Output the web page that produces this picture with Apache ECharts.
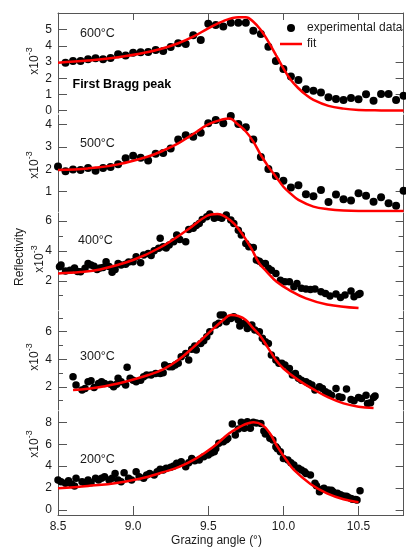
<!DOCTYPE html>
<html>
<head>
<meta charset="utf-8">
<script src="https://cdn.jsdelivr.net/npm/echarts@6.0.0/dist/echarts.min.js"></script>
<style>
html, body { margin: 0; padding: 0; background: #fff; }
#chart { width: 406px; height: 549px; }
</style>
</head>
<body>
<div id="chart"></div>
<script>
// ---- data (reflectivity in units of 1e-3) ----

// 600 C
var x600 = [8.55,8.60,8.65,8.70,8.75,8.80,8.85,8.90,8.95,9.00,9.05,9.10,9.15,9.20,9.25,9.30,9.35,9.40,9.45,9.50,9.55,9.60,9.65,9.70,9.75,9.80,9.85,9.90,9.95,10.00,10.05,10.10,10.15,10.20,10.25,10.30,10.35,10.40,10.45,10.50,10.55,10.60,10.65,10.70,10.75,10.80];
var y600 = [2.96,3.07,3.07,3.17,3.23,3.17,3.25,3.48,3.40,3.58,3.60,3.62,3.74,3.68,3.93,4.16,4.12,4.65,4.36,5.37,5.29,5.19,5.43,5.43,5.43,4.94,4.73,3.95,3.07,2.57,2.10,1.89,1.32,1.23,1.11,0.82,0.72,0.66,0.78,0.70,1.01,0.60,1.03,1.03,0.66,0.91];
var fitX600 = [8.50,8.70,8.90,9.10,9.20,9.30,9.40,9.50,9.60,9.70,9.75,9.80,9.85,9.90,9.95,10.00,10.05,10.10,10.15,10.20,10.30,10.40,10.50,10.65,10.80];
var fitY600 = [2.96,3.09,3.29,3.62,3.85,4.16,4.57,5.08,5.53,5.76,5.76,5.49,4.98,4.26,3.44,2.61,1.89,1.38,0.97,0.66,0.29,0.12,0.04,0.01,0.0];

// 500 C
var x500 = [8.50,8.55,8.60,8.65,8.70,8.75,8.80,8.85,8.90,8.95,9.00,9.05,9.10,9.15,9.20,9.25,9.30,9.35,9.40,9.45,9.50,9.55,9.60,9.65,9.70,9.75,9.80,9.85,9.90,9.95,10.00,10.05,10.10,10.15,10.20,10.25,10.30,10.35,10.40,10.45,10.50,10.55,10.60,10.65,10.70,10.75,10.80];
var y500 = [2.12,1.91,1.99,1.97,2.06,1.93,2.06,2.10,2.22,2.49,2.61,2.52,2.39,2.70,2.73,2.93,3.33,3.52,3.46,3.63,4.06,4.21,4.06,4.39,4.03,3.88,3.33,2.55,2.01,1.70,1.49,1.19,1.28,0.88,0.79,1.07,0.54,0.87,0.66,0.60,0.93,0.81,0.55,0.75,0.48,0.37,1.04];
var fitX500 = [8.50,8.70,8.90,9.10,9.20,9.30,9.40,9.50,9.60,9.64,9.70,9.75,9.80,9.85,9.90,9.95,10.00,10.05,10.10,10.20,10.30,10.40,10.50,10.80];
var fitY500 = [1.97,2.04,2.22,2.57,2.84,3.16,3.58,4.01,4.24,4.27,3.99,3.69,3.24,2.64,2.12,1.67,1.22,0.90,0.63,0.33,0.21,0.15,0.13,0.13];

// 400 C
var x400 = [8.51,8.52,8.55,8.58,8.61,8.63,8.65,8.68,8.70,8.72,8.74,8.76,8.78,8.80,8.82,8.84,8.86,8.88,8.90,8.92,8.95,8.97,9.00,9.02,9.05,9.07,9.10,9.12,9.14,9.17,9.18,9.20,9.22,9.24,9.27,9.29,9.31,9.35,9.37,9.40,9.42,9.44,9.46,9.49,9.51,9.54,9.57,9.59,9.62,9.65,9.67,9.70,9.72,9.75,9.77,9.80,9.82,9.84,9.86,9.88,9.90,9.92,9.95,9.98,10.01,10.04,10.07,10.09,10.12,10.15,10.18,10.21,10.25,10.28,10.31,10.35,10.38,10.41,10.45,10.47,10.50,10.51];
var y400 = [2.94,3.05,2.65,2.71,2.85,2.62,2.60,2.83,3.16,3.05,2.98,2.76,2.85,2.89,3.27,2.95,2.57,2.75,3.16,3.05,3.10,3.25,3.27,3.61,3.21,3.72,3.83,3.70,4.01,4.17,4.84,4.28,4.20,4.39,4.61,5.06,4.77,4.61,5.44,5.51,5.70,5.84,6.11,6.29,6.47,6.18,6.25,6.18,6.40,6.07,5.84,5.39,5.06,4.50,4.28,4.23,3.39,3.30,3.16,3.16,2.83,2.71,2.49,2.04,1.93,1.93,1.60,1.82,1.49,1.44,1.42,1.44,1.26,1.15,0.97,1.11,0.88,1.04,1.31,0.93,1.08,1.15];
var fitX400 = [8.50,8.65,8.78,9.00,9.18,9.36,9.49,9.56,9.645,9.71,9.78,9.84,9.89,9.955,10.04,10.15,10.29,10.50];
var fitY400 = [2.49,2.58,2.76,3.39,4.23,5.40,6.34,6.47,6.07,5.35,4.28,3.16,2.60,1.93,1.37,0.82,0.41,0.17];

// 300 C
var x300 = [8.60,8.62,8.66,8.68,8.70,8.72,8.74,8.77,8.79,8.81,8.85,8.87,8.89,8.90,8.92,8.95,8.96,8.98,9.00,9.02,9.05,9.07,9.09,9.12,9.15,9.18,9.20,9.21,9.24,9.26,9.28,9.30,9.32,9.35,9.37,9.39,9.41,9.42,9.45,9.47,9.49,9.51,9.55,9.57,9.58,9.60,9.62,9.65,9.67,9.70,9.71,9.74,9.76,9.78,9.79,9.81,9.84,9.86,9.88,9.90,9.92,9.95,9.97,9.99,10.01,10.04,10.06,10.08,10.10,10.12,10.15,10.17,10.19,10.21,10.24,10.26,10.28,10.30,10.32,10.35,10.37,10.39,10.42,10.45,10.47,10.50,10.52,10.55,10.56,10.58,10.60,10.61];
var y300 = [2.73,2.12,1.76,1.88,2.36,2.44,1.95,2.24,2.36,2.24,2.19,2.00,2.19,2.61,2.36,2.12,3.41,2.61,2.48,2.36,2.48,2.73,2.85,2.85,2.97,2.97,3.02,3.58,3.45,3.45,3.58,3.70,4.18,4.42,3.94,4.73,4.97,4.67,5.15,5.35,5.64,6.00,6.48,6.61,7.21,7.21,6.73,6.97,7.09,6.85,6.42,6.61,6.24,6.36,6.48,6.12,6.00,5.52,5.27,5.15,4.30,3.94,3.70,3.70,3.58,3.33,2.85,2.97,2.61,2.48,2.36,2.24,2.12,1.76,2.00,1.88,1.64,1.52,1.39,1.88,1.27,1.22,1.83,1.08,0.98,1.22,1.15,1.39,0.79,0.84,1.22,1.32];
var fitX300 = [8.60,8.70,8.90,9.10,9.20,9.30,9.40,9.50,9.60,9.65,9.70,9.75,9.80,9.85,9.90,9.95,10.00,10.10,10.20,10.30,10.40,10.50,10.60];
var fitY300 = [1.76,1.85,2.24,2.85,3.26,3.94,4.86,5.88,6.85,7.21,7.14,6.85,6.24,5.64,4.79,3.94,3.33,2.48,1.81,1.22,0.79,0.55,0.45];

// 200 C
var x200 = [8.50,8.52,8.55,8.57,8.59,8.61,8.62,8.66,8.68,8.70,8.72,8.75,8.77,8.79,8.81,8.84,8.86,8.88,8.90,8.92,8.94,8.97,8.99,9.02,9.04,9.07,9.09,9.11,9.14,9.16,9.18,9.20,9.22,9.25,9.27,9.29,9.32,9.35,9.37,9.39,9.41,9.44,9.47,9.50,9.52,9.54,9.55,9.57,9.60,9.62,9.63,9.66,9.68,9.70,9.72,9.74,9.76,9.78,9.80,9.82,9.85,9.87,9.88,9.91,9.93,9.95,9.96,9.98,10.00,10.03,10.05,10.07,10.10,10.12,10.14,10.15,10.18,10.21,10.22,10.24,10.26,10.27,10.30,10.32,10.33,10.36,10.38,10.40,10.42,10.43,10.45,10.46,10.48,10.49,10.51];
var y200 = [2.74,2.58,2.43,2.67,2.37,2.19,2.89,2.58,2.43,2.74,2.49,2.89,2.74,2.89,3.04,2.74,2.89,3.34,2.74,2.58,3.40,2.89,2.74,3.50,3.04,2.89,3.19,3.34,3.19,3.50,3.71,3.65,3.80,3.89,4.01,4.26,4.41,3.95,4.30,4.71,4.50,4.56,4.86,5.02,5.20,5.32,5.60,6.08,6.23,6.40,6.54,7.85,6.84,7.40,8.00,7.45,8.05,7.45,8.00,7.95,7.90,7.20,6.93,6.54,6.38,5.78,5.60,5.32,4.71,4.56,4.30,4.10,3.80,3.65,3.50,3.34,3.19,2.43,2.20,1.67,1.90,1.98,1.82,1.80,1.67,1.52,1.40,1.28,1.25,1.16,1.05,0.97,0.95,0.91,1.76];
var fitX200 = [8.50,8.70,8.90,9.10,9.20,9.31,9.42,9.53,9.64,9.70,9.75,9.80,9.86,9.91,9.96,10.02,10.07,10.18,10.29,10.40,10.50];
var fitY200 = [1.98,2.19,2.49,3.04,3.45,3.95,4.71,5.72,7.00,7.50,7.85,8.00,7.76,7.00,5.78,4.56,3.65,2.37,1.52,0.98,0.70];

var panelLabels = ["600°C", "500°C", "400°C", "300°C", "200°C"];
var xTicks = [8.5, 9.0, 9.5, 10.0, 10.5];

// ---- layout ----
var FONT = '"Liberation Sans", Arial, sans-serif';
var AXIS_COLOR = '#555';
var TEXT_COLOR = '#1a1a1a';
var GRID_LEFT = 58;
var GRID_WIDTH = 345.6;

// one entry per stacked panel, top to bottom
var panels = [
	{ top: 13,    height: 100,  min: -0.15, max: 6.03, major: [0,1,2,3,4,5], minor: [], xs: x600, ys: y600, fx: fitX600, fy: fitY600, dot: 8,   labelY: 34,    unitX: 33, unitY: 61 },
	{ top: 115,   height: 96.5, min: 0.11,  max: 4.43, major: [1,2,3,4],     minor: [], xs: x500, ys: y500, fx: fitX500, fy: fitY500, dot: 8,   labelY: 143.5, unitX: 33, unitY: 165 },
	{ top: 213,   height: 97,   min: 0.04,  max: 6.54, major: [2,4,6],       minor: [1,3,5], xs: x400, ys: y400, fx: fitX400, fy: fitY400, dot: 7.5, labelY: 241, unitX: 38, unitY: 259 },
	{ top: 311.5, height: 98.5, min: 0.31,  max: 7.47, major: [2,4,6],       minor: [1,3,5,7], xs: x300, ys: y300, fx: fitX300, fy: fitY300, dot: 7.5, labelY: 357, unitX: 33, unitY: 357 },
	{ top: 411.5, height: 103.5, min: -0.46, max: 8.99, major: [0,2,4,6,8],  minor: [], xs: x200, ys: y200, fx: fitX200, fy: fitY200, dot: 7.5, labelY: 459.5, unitX: 33, unitY: 444 }
];

function pairs(xs, ys)
{
	var re = [];
	for(var i=0; i<xs.length; i++)
		re.push([xs[i], ys[i]]);
	return re;
}

function tickAxis(gi, p, position, values, length, withLine, withLabel)
{
	return {
		gridIndex: gi,
		type: 'value',
		position: position,
		min: p.min,
		max: p.max,
		axisLine: { show: withLine, onZero: false, lineStyle: { color: AXIS_COLOR, width: 1 } },
		axisTick: { show: values.length > 0, inside: true, length: length, customValues: values, lineStyle: { color: AXIS_COLOR, width: 1 } },
		axisLabel: { show: withLabel, customValues: values, margin: 6, fontSize: 12, fontFamily: FONT, color: TEXT_COLOR },
		splitLine: { show: false }
	};
}

var grids = [], xAxes = [], yAxes = [], series = [], graphics = [];

for(var i=0; i<panels.length; i++)
{
	var p = panels[i];
	var last = (i == panels.length - 1);

	grids.push({ left: GRID_LEFT, top: p.top, width: GRID_WIDTH, height: p.height });

	xAxes.push({
		gridIndex: i,
		type: 'value',
		min: 8.5,
		max: 10.8,
		show: (i == 0 || last),
		position: (i == 0 ? 'top' : 'bottom'),
		axisLine: { show: true, onZero: false, lineStyle: { color: AXIS_COLOR, width: 1 } },
		axisTick: { show: true, inside: true, length: (i == 0 ? 7 : 9), customValues: (i == 0 ? xTicks.slice(1) : xTicks), lineStyle: { color: AXIS_COLOR } },
		axisLabel: {
			show: last, customValues: xTicks, margin: 6, fontSize: 12, fontFamily: FONT, color: TEXT_COLOR,
			formatter: function(v) { return v.toFixed(1); }
		},
		splitLine: { show: false }
	});

	var yBase = yAxes.length;
	yAxes.push(tickAxis(i, p, 'left', p.major, 9, true, true));
	yAxes.push(tickAxis(i, p, 'left', p.minor, 5, false, false));
	yAxes.push(tickAxis(i, p, 'right', p.major, 8, true, false));
	yAxes.push(tickAxis(i, p, 'right', p.minor, 5, false, false));

	series.push({
		name: 'experimental data',
		type: 'scatter',
		xAxisIndex: i,
		yAxisIndex: yBase,
		data: pairs(p.xs, p.ys),
		symbol: 'circle',
		symbolSize: p.dot,
		itemStyle: { color: '#000', opacity: 1 },
		z: 2
	});
	series.push({
		name: 'fit',
		type: 'line',
		xAxisIndex: i,
		yAxisIndex: yBase,
		data: pairs(p.fx, p.fy),
		symbol: 'none',
		smooth: 0.4,
		lineStyle: { color: '#ff0000', width: 2.5 },
		itemStyle: { color: '#ff0000' },
		z: 3
	});

	// temperature tag
	graphics.push({
		type: 'text', x: (i == 2 ? 78 : 80), y: p.labelY,
		style: { text: panelLabels[i], font: '12.5px ' + FONT, fill: TEXT_COLOR, align: 'left', verticalAlign: 'middle' }
	});
	// x10^-3 unit, rotated
	graphics.push({
		type: 'text', x: p.unitX, y: p.unitY, rotation: Math.PI / 2,
		style: {
			text: '{a|x10}{b|-3}', align: 'center', verticalAlign: 'middle',
			rich: {
				a: { fontSize: 12, fontFamily: FONT, fill: TEXT_COLOR, lineHeight: 16, verticalAlign: 'bottom' },
				b: { fontSize: 9, fontFamily: FONT, fill: TEXT_COLOR, lineHeight: 16, verticalAlign: 'top' }
			}
		}
	});
}

graphics.push({
	type: 'text', x: 72.5, y: 85,
	style: { text: 'First Bragg peak', font: 'bold 12.5px ' + FONT, fill: '#000', align: 'left', verticalAlign: 'middle' }
});
graphics.push({
	type: 'text', x: 20, y: 257, rotation: Math.PI / 2,
	style: { text: 'Reflectivity', font: '12px ' + FONT, fill: TEXT_COLOR, align: 'center', verticalAlign: 'middle' }
});
graphics.push({
	type: 'text', x: 216.5, y: 541,
	style: { text: 'Grazing angle (°)', font: '12px ' + FONT, fill: TEXT_COLOR, align: 'center', verticalAlign: 'middle' }
});

var chart = echarts.init(document.getElementById('chart'), null, { renderer: 'canvas' });

chart.setOption({
	animation: false,
	backgroundColor: '#fff',
	grid: grids,
	xAxis: xAxes,
	yAxis: yAxes,
	legend: {
		orient: 'vertical',
		left: 277,
		top: 21,
		padding: [1, 0, 5, 3],
		itemWidth: 22,
		itemHeight: 8,
		itemGap: 4,
		selectedMode: false,
		symbolKeepAspect: true,
		backgroundColor: '#fff',
		textStyle: { fontSize: 12, fontFamily: FONT, color: TEXT_COLOR },
		data: [
			{ name: 'experimental data', icon: 'circle', itemStyle: { color: '#000', opacity: 1 } },
			{ name: 'fit', icon: 'path://M0,0 L22,0 L22,2.5 L0,2.5 Z', itemStyle: { color: '#ff0000' } }
		]
	},
	graphic: graphics,
	series: series
});
</script>
</body>
</html>
